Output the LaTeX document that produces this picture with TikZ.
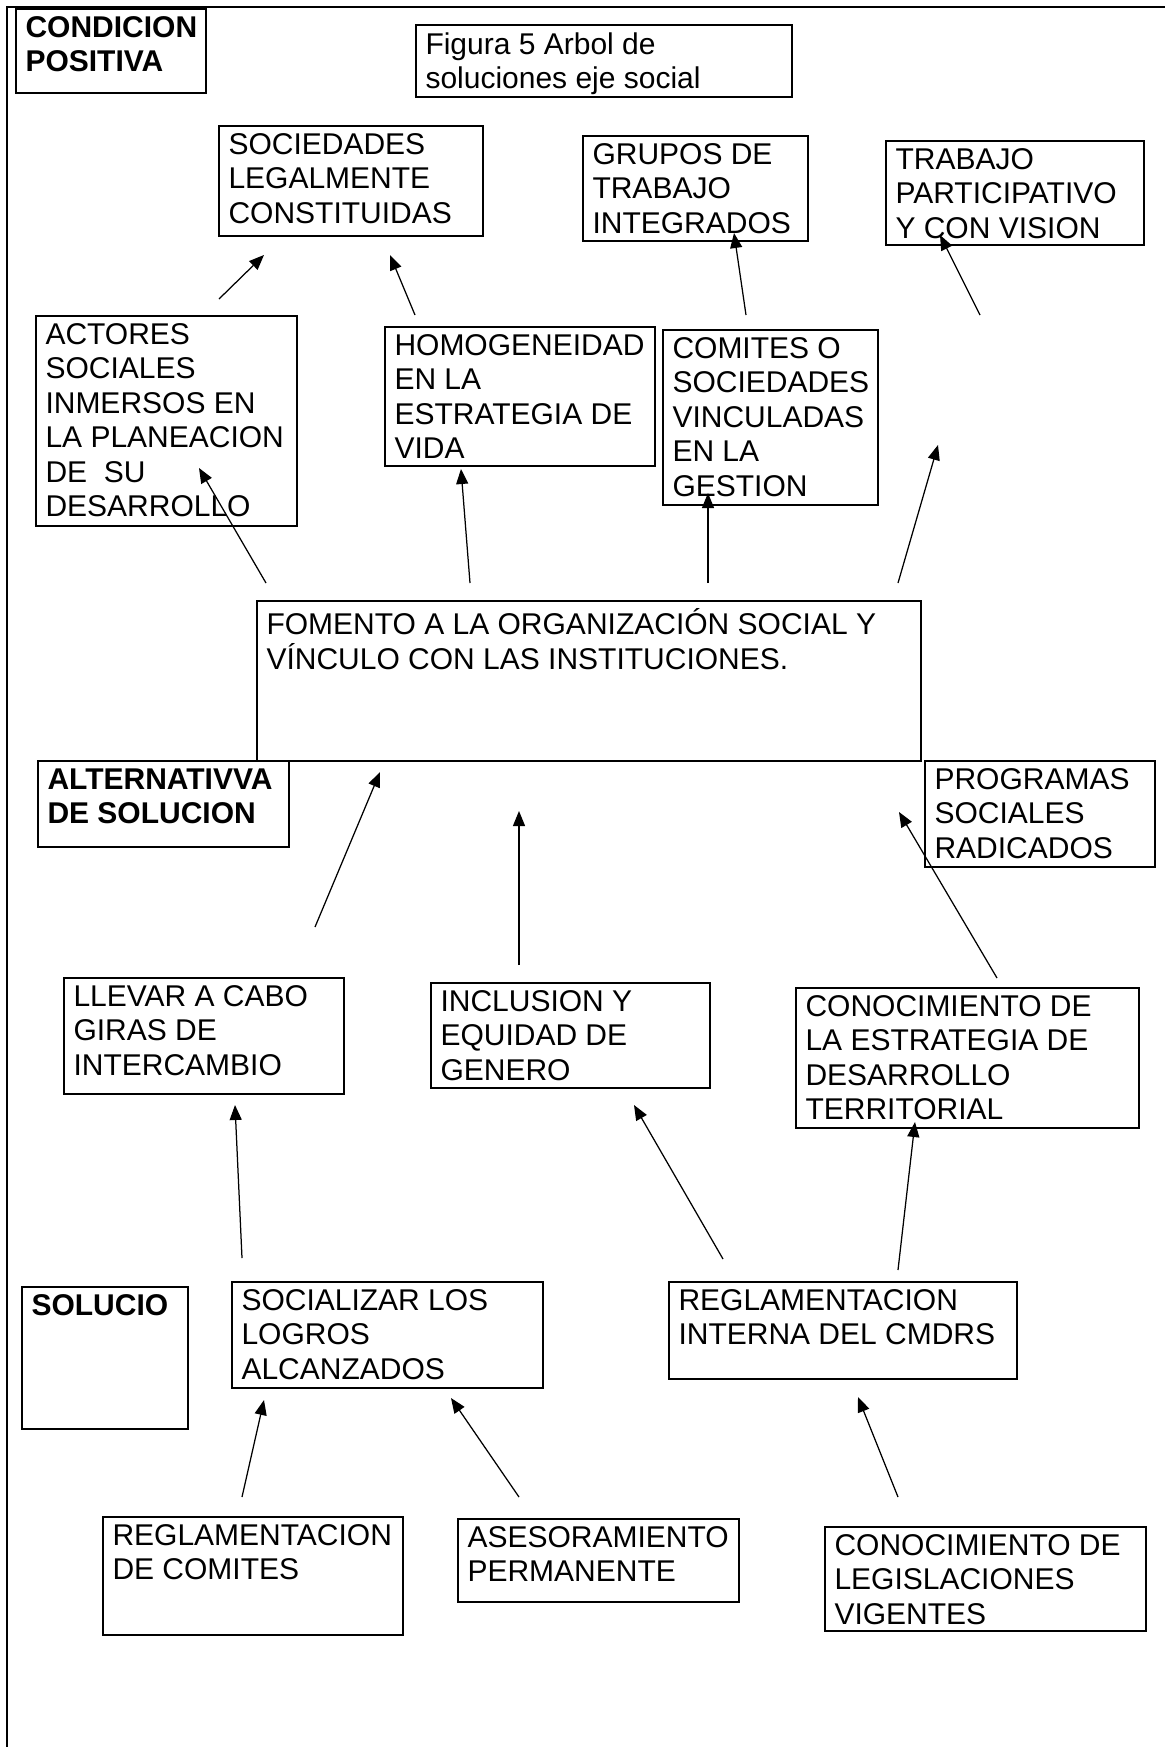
\documentclass[tikz,border=0pt]{standalone}
\usepackage{fontspec}
\setmainfont{Liberation Sans}
\usetikzlibrary{arrows.meta,fit}

\tikzset{
  marco/.style={draw, line width=0.8pt, inner sep=0pt},
  txt/.style={anchor=north west, inner sep=0pt, align=left, font=\fontsize{12}{13.8}\selectfont},
  txtb/.style={txt, font=\fontsize{12}{13.8}\selectfont\bfseries},
  flecha/.style={line width=0.5pt, -{Triangle[length=6pt,width=4.8pt]}},
}
% box from top-left to bottom-right, text at its top-left corner
\newcommand{\caja}[5][txt]{%
  \node[marco, fit={#3 #4}] (#2) {};
  \node[#1] (#2-t) at ([shift={(10,8)}]#2.north west) {#5};}

\begin{document}
\begin{tikzpicture}[x=0.4pt,y=0.4pt,yscale=-1]
    \useasboundingbox (0,0) rectangle (1165,1747);
    \draw[line width=0.8pt] (1165,7) -- (7,7) -- (7,1747);

    \caja[txtb]{cond}{(16,9)}{(206,93)}{CONDICION\\POSITIVA}
    \caja{fig}{(416,25)}{(792,97)}{Figura 5 Arbol de\\soluciones eje social}
    \caja{soc}{(219,126)}{(483,236)}{SOCIEDADES\\LEGALMENTE\\CONSTITUIDAS}
    \caja{gru}{(583,136)}{(808,241)}{GRUPOS DE\\TRABAJO\\INTEGRADOS}
    \caja{trab}{(886,141)}{(1144,245)}{TRABAJO\\PARTICIPATIVO\\Y CON VISION}
    \caja{act}{(36,316)}{(297,526)}{ACTORES\\SOCIALES\\INMERSOS EN\\LA PLANEACION\\DE\ \ SU\\DESARROLLO}
    \caja{hom}{(385,327)}{(655,466)}{HOMOGENEIDAD\\EN LA\\ESTRATEGIA DE\\VIDA}
    \caja{com}{(663,330)}{(878,505)}{COMITES O\\SOCIEDADES\\VINCULADAS\\EN LA\\GESTION}
    \caja{fom}{(257,601)}{(921,761)}{FOMENTO A LA ORGANIZACIÓN SOCIAL Y\\VÍNCULO CON LAS INSTITUCIONES.}
    \caja[txtb]{alt}{(38,761)}{(289,847)}{ALTERNATIVVA\\DE SOLUCION}
    \caja{prog}{(925,761)}{(1155,867)}{PROGRAMAS\\SOCIALES\\RADICADOS}
    \caja{llev}{(64,978)}{(344,1094)}{LLEVAR A CABO\\GIRAS DE\\INTERCAMBIO}
    \caja{incl}{(431,983)}{(710,1088)}{INCLUSION Y\\EQUIDAD DE\\GENERO}
    \caja{cest}{(796,988)}{(1139,1128)}{CONOCIMIENTO DE\\LA ESTRATEGIA DE\\DESARROLLO\\TERRITORIAL}
    \caja[txtb]{solu}{(22,1287)}{(188,1429)}{SOLUCIO}
    \caja{socz}{(232,1282)}{(543,1388)}{SOCIALIZAR LOS\\LOGROS\\ALCANZADOS}
    \caja{rint}{(669,1282)}{(1017,1379)}{REGLAMENTACION\\INTERNA DEL CMDRS}
    \caja{rcom}{(103,1517)}{(403,1635)}{REGLAMENTACION\\DE COMITES}
    \caja{ases}{(458,1519)}{(739,1602)}{ASESORAMIENTO\\PERMANENTE}
    \caja{cleg}{(825,1527)}{(1146,1631)}{CONOCIMIENTO DE\\LEGISLACIONES\\VIGENTES}

    \foreach \n/\ax/\ay/\bx/\by in {1/219/299/264/255, 2/415/315/390/255, 3/746/315/734/233,
        4/980/315/940/235, 5/266/583/199/468, 6/470/583/461/469, 7/708/583/708/493,
        8/898/583/938/445, 9/315/927/380/772, 10/519/965/519/811, 11/997/978/899/812,
        12/242/1258/235/1105, 13/723/1259/634/1105, 14/898/1270/915/1122,
        15/242/1497/264/1400, 16/519/1497/451/1398, 17/898/1497/858/1397}{
      \coordinate (f\n-a) at (\ax,\ay);
      \coordinate (f\n-b) at (\bx,\by);
      \draw[flecha] (f\n-a) -- (f\n-b);
    }
\end{tikzpicture}
\end{document}
